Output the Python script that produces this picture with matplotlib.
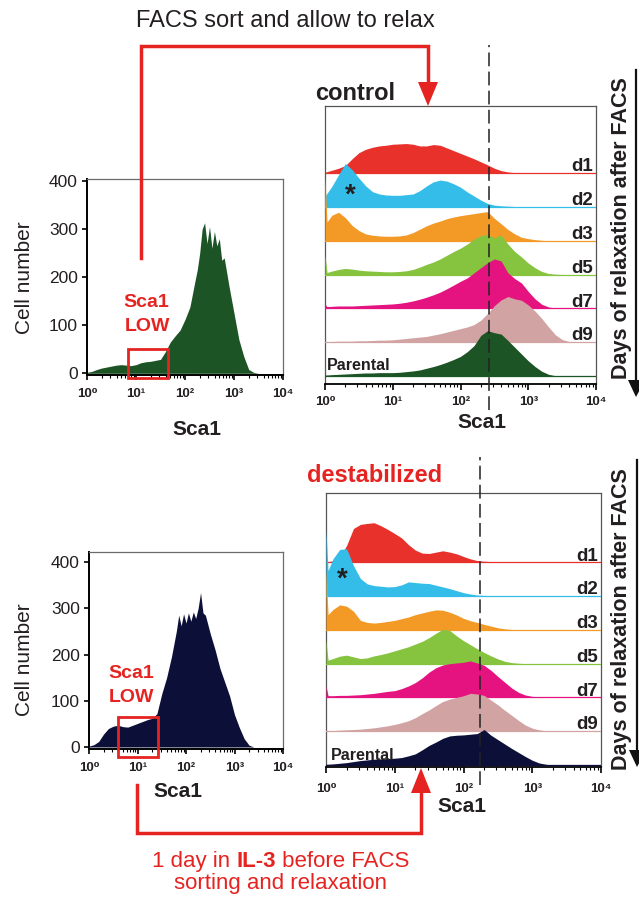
import numpy as np
import matplotlib
matplotlib.use("Agg")
import matplotlib.pyplot as plt
from matplotlib.ticker import FixedLocator, LogLocator, NullFormatter
from matplotlib.patches import Rectangle, Polygon
from matplotlib.lines import Line2D

plt.rcParams['font.family'] = ['Liberation Sans', 'DejaVu Sans']

W, H = 639, 897
RED = '#e52421'
INK = '#231f20'

# ---- data -------------------------------------------------------------
decades = [1, 10, 100, 1000, 10000]
decade_labels = ['10⁰', '10¹', '10²', '10³', '10⁴']
cell_ticks = [0, 100, 200, 300, 400]

# sorted population histograms (log10 Sca1, cell number)
sort_ctrl_log = [0.0, 0.1, 0.2, 0.3, 0.4, 0.5, 0.6, 0.7, 0.8, 0.9, 1.0, 1.1, 1.2, 1.3, 1.4, 1.5,
                 1.6, 1.7, 1.8, 1.9, 2.0, 2.1, 2.2, 2.25, 2.3, 2.35, 2.4, 2.45, 2.5, 2.55, 2.6,
                 2.65, 2.7, 2.75, 2.8, 2.9, 3.0, 3.1, 3.2, 3.3, 3.4, 3.5, 4.0]
sort_ctrl_cells = [2, 4, 8, 11, 13, 15, 17, 18, 17, 16, 18, 22, 24, 25, 27, 29,
                   45, 65, 78, 90, 112, 138, 190, 215, 250, 300, 313, 270, 305, 260, 295,
                   265, 280, 235, 240, 180, 125, 70, 35, 8, 2, 0, 0]
sort_dest_log = [0.0, 0.1, 0.2, 0.3, 0.4, 0.5, 0.6, 0.7, 0.8, 0.9, 1.0, 1.1, 1.2, 1.3, 1.4, 1.5,
                 1.6, 1.7, 1.8, 1.85, 1.9, 1.95, 2.0, 2.05, 2.1, 2.15, 2.2, 2.25, 2.3, 2.35, 2.4,
                 2.5, 2.6, 2.7, 2.8, 2.9, 3.0, 3.1, 3.2, 3.3, 3.4, 4.0]
sort_dest_cells = [2, 5, 12, 28, 40, 45, 47, 44, 43, 47, 51, 55, 59, 62, 72, 115,
                   150, 195, 250, 285, 262, 288, 268, 290, 272, 292, 278, 300, 334, 290, 285,
                   245, 210, 170, 140, 110, 70, 42, 18, 4, 0, 0]

# Sca1LOW gates (Sca1 range, cell range)
gate_ctrl = [6.9, 45, -10, 51]
gate_dest = [3.9, 26, -22, 65]

# relaxation time course: log10 Sca1 grid and normalised heights per row
relax_log = [0.0, 0.03, 0.1, 0.2, 0.3, 0.4, 0.5, 0.6, 0.7, 0.8,
             0.9, 1.0, 1.1, 1.2, 1.3, 1.4, 1.5, 1.6, 1.7, 1.8,
             1.9, 2.0, 2.1, 2.2, 2.3, 2.4, 2.5, 2.6, 2.7, 2.8,
             2.9, 3.0, 3.1, 3.2, 3.3, 3.4, 3.5, 3.6, 3.7, 3.8,
             3.9, 4.0]
rows = ['d1', 'd2', 'd3', 'd5', 'd7', 'd9', 'Parental']

ctrl_d1 = [0.02, 0.04, 0.08, 0.14, 0.22, 0.42, 0.60, 0.70, 0.76, 0.80,
           0.82, 0.85, 0.86, 0.87, 0.85, 0.80, 0.80, 0.84, 0.82, 0.74,
           0.66, 0.58, 0.50, 0.42, 0.33, 0.24, 0.14, 0.07, 0.03, 0.01,
           0, 0, 0, 0, 0, 0, 0, 0, 0, 0, 0, 0]
ctrl_d2 = [0.30, 0.40, 0.60, 0.95, 1.28, 1.10, 0.85, 0.62, 0.45, 0.38,
           0.35, 0.34, 0.34, 0.36, 0.38, 0.48, 0.62, 0.74, 0.79, 0.76,
           0.68, 0.58, 0.44, 0.32, 0.20, 0.10, 0.05, 0.03, 0.02, 0.01,
           0, 0, 0, 0, 0, 0, 0, 0, 0, 0, 0, 0]
ctrl_d3 = [1.90, 0.55, 0.75, 0.84, 0.68, 0.45, 0.30, 0.20, 0.16, 0.14,
           0.13, 0.13, 0.14, 0.17, 0.24, 0.34, 0.44, 0.52, 0.58, 0.65,
           0.70, 0.74, 0.77, 0.80, 0.83, 0.86, 0.66, 0.50, 0.33, 0.20,
           0.10, 0.06, 0.03, 0.01, 0, 0, 0, 0, 0, 0, 0, 0]
ctrl_d5 = [0.57, 0.06, 0.10, 0.15, 0.18, 0.16, 0.13, 0.11, 0.10, 0.09,
           0.08, 0.08, 0.09, 0.11, 0.15, 0.22, 0.30, 0.37, 0.46, 0.57,
           0.68, 0.78, 0.90, 1.05, 1.15, 1.18, 1.08, 1.17, 0.90, 0.68,
           0.52, 0.34, 0.20, 0.09, 0.03, 0.01, 0, 0, 0, 0, 0, 0]
ctrl_d7 = [0.12, 0.05, 0.06, 0.07, 0.07, 0.07, 0.08, 0.09, 0.10, 0.11,
           0.12, 0.13, 0.15, 0.18, 0.22, 0.27, 0.33, 0.40, 0.48, 0.58,
           0.69, 0.80, 0.90, 1.05, 1.20, 1.35, 1.46, 1.40, 1.05, 0.88,
           0.75, 0.50, 0.28, 0.12, 0.04, 0.01, 0, 0, 0, 0, 0, 0]
ctrl_d9 = [0.02, 0.02, 0.02, 0.03, 0.03, 0.03, 0.04, 0.04, 0.05, 0.06,
           0.06, 0.07, 0.09, 0.11, 0.13, 0.15, 0.17, 0.21, 0.25, 0.30,
           0.35, 0.40, 0.45, 0.52, 0.65, 0.85, 1.08, 1.25, 1.35, 1.28,
           1.24, 1.10, 0.92, 0.70, 0.45, 0.22, 0.08, 0.02, 0, 0, 0, 0]
ctrl_par = [0.03, 0.03, 0.04, 0.05, 0.06, 0.07, 0.08, 0.09, 0.09, 0.10,
            0.10, 0.10, 0.11, 0.13, 0.15, 0.18, 0.23, 0.28, 0.34, 0.41,
            0.49, 0.58, 0.72, 0.90, 1.20, 1.34, 1.28, 1.24, 1.05, 0.85,
            0.65, 0.45, 0.28, 0.14, 0.05, 0.01, 0, 0, 0, 0, 0, 0]

dest_d1 = [0.00, 0.02, 0.04, 0.15, 0.50, 1.00, 1.12, 1.15, 1.17, 1.08,
           0.97, 0.85, 0.72, 0.52, 0.36, 0.27, 0.26, 0.30, 0.34, 0.30,
           0.25, 0.17, 0.10, 0.05, 0.03, 0.02, 0.01, 0, 0, 0,
           0, 0, 0, 0, 0, 0, 0, 0, 0, 0, 0, 0]
dest_d2 = [1.94, 0.75, 1.10, 1.38, 1.40, 0.90, 0.52, 0.36, 0.31, 0.29,
           0.27, 0.28, 0.33, 0.42, 0.40, 0.38, 0.37, 0.32, 0.27, 0.22,
           0.16, 0.10, 0.06, 0.03, 0.02, 0.01, 0, 0, 0, 0,
           0, 0, 0, 0, 0, 0, 0, 0, 0, 0, 0, 0]
dest_d3 = [1.76, 0.45, 0.60, 0.74, 0.70, 0.55, 0.28, 0.22, 0.20, 0.22,
           0.25, 0.28, 0.33, 0.38, 0.45, 0.50, 0.55, 0.59, 0.58, 0.52,
           0.44, 0.34, 0.27, 0.22, 0.16, 0.11, 0.06, 0.03, 0.01, 0,
           0, 0, 0, 0, 0, 0, 0, 0, 0, 0, 0, 0]
dest_d5 = [0.69, 0.10, 0.15, 0.22, 0.25, 0.20, 0.15, 0.17, 0.23, 0.27,
           0.32, 0.38, 0.44, 0.50, 0.58, 0.66, 0.77, 0.90, 1.02, 0.98,
           0.82, 0.68, 0.56, 0.44, 0.33, 0.23, 0.14, 0.07, 0.03, 0.01,
           0, 0, 0, 0, 0, 0, 0, 0, 0, 0, 0, 0]
dest_d7 = [0.34, 0.05, 0.05, 0.06, 0.06, 0.07, 0.08, 0.10, 0.12, 0.15,
           0.18, 0.20, 0.26, 0.34, 0.44, 0.58, 0.75, 0.88, 0.96, 1.00,
           1.02, 1.04, 1.08, 1.02, 0.95, 0.80, 0.62, 0.45, 0.28, 0.15,
           0.07, 0.03, 0.01, 0, 0, 0, 0, 0, 0, 0, 0, 0]
dest_d9 = [0.02, 0.02, 0.02, 0.03, 0.04, 0.05, 0.06, 0.08, 0.10, 0.13,
           0.16, 0.20, 0.25, 0.31, 0.40, 0.52, 0.63, 0.76, 0.88, 0.95,
           1.00, 1.05, 1.12, 1.10, 1.06, 0.92, 0.78, 0.62, 0.47, 0.32,
           0.18, 0.09, 0.04, 0.01, 0, 0, 0, 0, 0, 0, 0, 0]
dest_par = [0.02, 0.02, 0.03, 0.05, 0.07, 0.10, 0.13, 0.15, 0.17, 0.18,
            0.19, 0.20, 0.22, 0.27, 0.33, 0.45, 0.58, 0.68, 0.79, 0.86,
            0.88, 0.89, 0.91, 0.93, 1.05, 0.88, 0.75, 0.62, 0.49, 0.37,
            0.25, 0.14, 0.06, 0.02, 0, 0, 0, 0, 0, 0, 0, 0]

# Sca1 thresholds marked by the dashed lines
thresh_ctrl = 263
thresh_dest = 174

row_colors = {'d1': '#e8312a', 'd2': '#35bde9', 'd3': '#f39a26', 'd5': '#86c440',
              'd7': '#e5137f', 'd9': '#d1a3a3'}
ctrl_color = '#1d5426'
dest_color = '#0c1038'

# ---- helpers -----------------------------------------------------------
fig = plt.figure(figsize=(W / 100, H / 100), dpi=100)


def fx(x):
    return x / W


def fy(y):
    return 1 - y / H


def px_axes(l, t, r, b):
    return fig.add_axes([fx(l), fy(b), (r - l) / W, (b - t) / H])


def ftext(x, y, s, **kw):
    kw.setdefault('color', INK)
    return fig.text(fx(x), fy(y), s, **kw)


def fline(xs, ys, **kw):
    fig.add_artist(Line2D([fx(v) for v in xs], [fy(v) for v in ys],
                          transform=fig.transFigure, **kw))


def fpoly(pts, color):
    fig.add_artist(Polygon([(fx(a), fy(b)) for a, b in pts], closed=True,
                           transform=fig.transFigure, color=color, lw=0))


def log_xaxis(ax, pad, major_len):
    ax.set_xscale('log')
    ax.set_xlim(1, 1e4)
    ax.xaxis.set_major_locator(FixedLocator(decades))
    ax.set_xticklabels(decade_labels, fontsize=9.5, fontweight='bold', color=INK)
    ax.xaxis.set_minor_locator(LogLocator(base=10, subs=range(2, 10), numticks=20))
    ax.xaxis.set_minor_formatter(NullFormatter())
    ax.tick_params(axis='x', which='major', direction='out', length=major_len, width=1.2, pad=pad)
    ax.tick_params(axis='x', which='minor', direction='out', length=2.4, width=0.8)


def sort_panel(box, log_x, cells, ylim, color, gate, pad):
    ax = px_axes(*box)
    ax.fill_between(np.power(10.0, log_x), 0, cells, color=color, lw=0)
    ax.set_ylim(*ylim)
    log_xaxis(ax, pad, 3.5)
    ax.set_yticks(cell_ticks)
    ax.set_yticklabels([str(t) for t in cell_ticks], fontsize=12.5, color=INK)
    ax.tick_params(axis='y', direction='out', length=3.5, width=1.2, pad=3)
    for s in ['top', 'right']:
        ax.spines[s].set_color('#6b6b6b')
        ax.spines[s].set_linewidth(0.9)
    for s in ['left', 'bottom']:
        ax.spines[s].set_color('black')
        ax.spines[s].set_linewidth(1.4)
    x0, x1, y0, y1 = gate
    ax.add_patch(Rectangle((x0, y0), x1 - x0, y1 - y0, fill=False, ec=RED, lw=2.0,
                           clip_on=False, zorder=5))
    return ax


def relax_panel(box, curves, par_color, ylim, pad, thresh, dash_span):
    ax = px_axes(*box)
    xs = np.power(10.0, relax_log)
    n = len(rows)
    for i, (name, vals) in enumerate(zip(rows, curves)):
        base = n - 1 - i
        c = row_colors.get(name, par_color)
        ax.fill_between(xs, base, base + np.array(vals), color=c, lw=0, zorder=2 + i)
        ax.plot([1, 1e4], [base, base], color=c, lw=0.9, zorder=2 + i)
        if name != 'Parental':
            ax.text(0.988, base + 0.05, name, transform=ax.get_yaxis_transform(),
                    ha='right', va='baseline', fontsize=13.5, fontweight='bold',
                    color=INK, zorder=20)
    ax.set_ylim(*ylim)
    ax.set_yticks([])
    log_xaxis(ax, pad, 4.5)
    for s in ['top', 'right', 'left']:
        ax.spines[s].set_color('#555555')
        ax.spines[s].set_linewidth(0.9)
    ax.spines['bottom'].set_color('black')
    ax.spines['bottom'].set_linewidth(1.3)
    ax.axvline(thresh, ymin=dash_span[0], ymax=dash_span[1], color='#222222', lw=1.1,
               ls=(0, (9, 3.5)), clip_on=False, zorder=30)
    return ax


# ---- control (top) -----------------------------------------------------
sort_panel((87, 179, 283, 375), sort_ctrl_log, sort_ctrl_cells, (-3.5, 404),
           ctrl_color, gate_ctrl, 6)
ax_c = relax_panel((325, 106, 596, 384),
                   [ctrl_d1, ctrl_d2, ctrl_d3, ctrl_d5, ctrl_d7, ctrl_d9, ctrl_par],
                   ctrl_color, (-0.236, 7.98), 4, thresh_ctrl, (-0.094, 1.22))

# ---- destabilized (bottom) ---------------------------------------------
sort_panel((89, 552, 283, 749), sort_dest_log, sort_dest_cells, (-4.3, 421.6),
           dest_color, gate_dest, 6)
ax_d = relax_panel((326, 493, 601, 767),
                   [dest_d1, dest_d2, dest_d3, dest_d5, dest_d7, dest_d9, dest_par],
                   dest_color, (-0.06, 8.05), 7, thresh_dest, (-0.066, 1.13))

# ---- texts ---------------------------------------------------------------
ftext(285, 27, 'FACS sort and allow to relax', fontsize=17, ha='center', va='baseline')
ftext(355, 100, 'control', fontsize=17, fontweight='bold', ha='center', va='baseline')
ftext(375, 482, 'destabilized', fontsize=17, fontweight='bold', ha='center',
      va='baseline', color=RED)

for y in (278, 660):
    ftext(25, y, 'Cell number', fontsize=15, rotation=90, ha='center', va='center')

ftext(146, 307, 'Sca1', fontsize=14, fontweight='bold', color=RED, ha='center', va='baseline')
ftext(147, 331, 'LOW', fontsize=14, fontweight='bold', color=RED, ha='center', va='baseline')
ftext(131, 678, 'Sca1', fontsize=14, fontweight='bold', color=RED, ha='center', va='baseline')
ftext(131, 702, 'LOW', fontsize=14, fontweight='bold', color=RED, ha='center', va='baseline')

ftext(197, 435, 'Sca1', fontsize=15, fontweight='bold', ha='center', va='baseline')
ftext(482, 428, 'Sca1', fontsize=15, fontweight='bold', ha='center', va='baseline')
ftext(178, 797, 'Sca1', fontsize=15, fontweight='bold', ha='center', va='baseline')
ftext(462, 812, 'Sca1', fontsize=15, fontweight='bold', ha='center', va='baseline')

ftext(327, 370, 'Parental', fontsize=11.5, fontweight='bold', ha='left', va='baseline')
ftext(331, 760, 'Parental', fontsize=11.5, fontweight='bold', ha='left', va='baseline',
      zorder=10)

ftext(350, 196, '*', fontsize=20, fontweight='bold', ha='center', va='center')
ftext(342, 580, '*', fontsize=20, fontweight='bold', ha='center', va='center')

for y in (228, 619):
    ftext(621, y, 'Days of relaxation after FACS', fontsize=15.5, fontweight='bold',
          rotation=90, ha='center', va='center')

# arrows for the time axis
fline([636, 636], [70, 382], color='#111111', lw=1.6)
fpoly([(628, 380), (645, 380), (636, 397)], '#111111')
fline([637, 637], [460, 752], color='#111111', lw=1.6)
fpoly([(629, 750), (646, 750), (637, 767)], '#111111')

# red sorting arrows
fline([141, 141, 428, 428], [258, 46, 46, 84], color=RED, lw=2.5, solid_joinstyle='miter')
fpoly([(418, 82), (438, 82), (428, 106)], RED)
fline([137, 137, 421, 421], [785, 833, 833, 791], color=RED, lw=2.5, solid_joinstyle='miter')
fpoly([(411, 793), (431, 793), (421, 768)], RED)

# mixed-weight caption
renderer = fig.canvas.get_renderer()
parts = [('1 day in ', 'normal'), ('IL-3', 'bold'), (' before FACS', 'normal')]
widths = []
for s, w in parts:
    t = ftext(0, 0, s, fontsize=16, fontweight=w)
    widths.append(t.get_window_extent(renderer).width)
    t.remove()
x = 281 - sum(widths) / 2
for (s, w), wd in zip(parts, widths):
    ftext(x, 867, s, fontsize=16, fontweight=w, color=RED, ha='left', va='baseline')
    x += wd
ftext(280, 889, 'sorting and relaxation', fontsize=16, color=RED, ha='center', va='baseline')

fig.savefig('out.png', dpi=100)
